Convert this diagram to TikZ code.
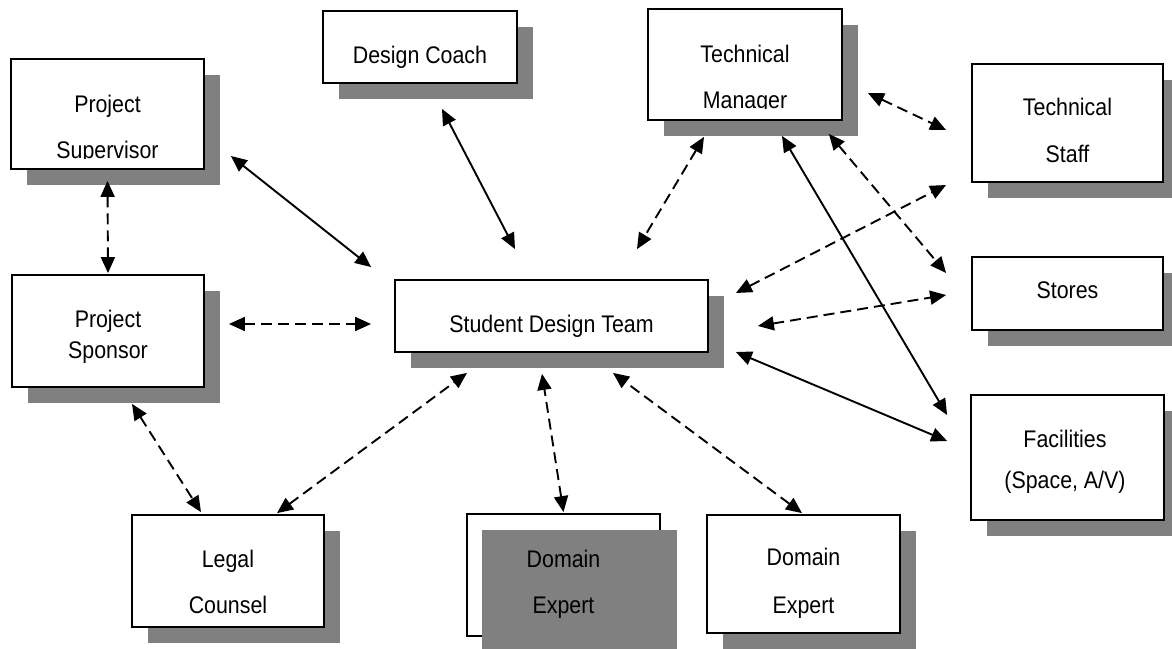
\documentclass[tikz,border=0pt]{standalone}
\usepackage{fontspec}
\setmainfont{Liberation Sans}[FakeStretch=0.89]
\usetikzlibrary{arrows.meta,shadows,calc}
\definecolor{boxgray}{gray}{0.5}
\tikzset{
  box/.style={draw=black, line width=1.8pt, fill=white, inner sep=0pt,
    drop shadow={shadow xshift=16pt, shadow yshift=-16pt, fill=boxgray, opacity=1}},
  plainbox/.style={draw=black, line width=1.8pt, fill=white, inner sep=0pt},
  txt/.style={anchor=base, inner sep=0pt, font=\fontsize{24}{26}\selectfont},
  link/.style={line width=1.9pt, {Triangle[length=16pt,width=14pt]}-{Triangle[length=16pt,width=14pt]}},
  dlink/.style={link, dash pattern=on 11pt off 6pt}
}
\begin{document}
\begin{tikzpicture}[x=1pt,y=-1pt]
\useasboundingbox (0,0) rectangle (1172,648);
\clip (0,0) rectangle (1172,648);

% boxes
\node[box, minimum width=194pt, minimum height=72pt]  (coach) at (420,47) {};
\node[box, minimum width=194pt, minimum height=111pt] (tm)    at (745,64.5) {};
\node[box, minimum width=193pt, minimum height=110pt] (sup)   at (107.5,114) {};
\node[box, minimum width=192pt, minimum height=112pt] (spo)   at (108,331) {};
\node[box, minimum width=313pt, minimum height=72pt]  (sdt)   at (551.5,316) {};
\node[box, minimum width=191pt, minimum height=118pt] (ts)    at (1067.5,123) {};
\node[box, minimum width=191pt, minimum height=73pt]  (st)    at (1067.5,293.5) {};
\node[box, minimum width=193pt, minimum height=125pt] (fac)   at (1067.5,457.5) {};
\node[box, minimum width=192pt, minimum height=112pt] (lc)    at (228,571) {};
\node[box, minimum width=193pt, minimum height=118pt] (de2)   at (803.5,574) {};
% this domain expert box has its grey block lying on top of it
\node[plainbox, minimum width=193pt, minimum height=122pt] (de1) at (563.5,575) {};
\fill[boxgray] ([shift={(16,17)}]de1.north west) rectangle ([shift={(16,16)}]de1.south east);

% labels
\node[txt] at (420,63) {Design Coach};
\node[txt] at (745,62) {Technical};
\begin{scope}
  \clip (650,70) rectangle (840,108);
  \node[txt] at (745,108) {Manager};
\end{scope}
\node[txt] at (107.5,112) {Project};
\begin{scope}
  \clip (13,118) rectangle (202,158);
  \node[txt] at (107.5,158) {Supervisor};
\end{scope}
\node[txt] at (108,327) {Project};
\node[txt] at (108,358) {Sponsor};
\node[txt] at (551.5,332) {Student Design Team};
\node[txt] at (1067.5,115) {Technical};
\node[txt] at (1067.5,162) {Staff};
\node[txt] at (1067.5,298) {Stores};
\node[txt] at (1065,447) {Facilities};
\node[txt] at (1065,488) {(Space, A/V)};
\node[txt] at (228,567) {Legal};
\node[txt] at (228,613) {Counsel};
\node[txt] at (563.5,567) {Domain};
\node[txt] at (563.5,613) {Expert};
\node[txt] at (803.5,565) {Domain};
\node[txt] at (803.5,613) {Expert};

% connectors
\draw[link]  ([shift={(22,25)}]coach.south) -- ([shift={(-36.5,-30)}]sdt.north);
\draw[link]  ([shift={(26,42)}]sup.east) -- ([shift={(-23,-12)}]sdt.north west);
\draw[dlink] ([shift={(0,11)}]sup.south) -- ([shift={(0,-1)}]spo.north);
\draw[dlink] ([shift={(24,-7)}]spo.east) -- ([shift={(-23,8)}]sdt.west);
\draw[dlink] ([shift={(24,16)}]spo.south) -- ([shift={(-27,-2)}]lc.north);
\draw[dlink] ([shift={(49,-1)}]lc.north) -- ([shift={(-84.5,20)}]sdt.south);
\draw[dlink] ([shift={(0,-1)}]de1.north) -- ([shift={(-9.5,21)}]sdt.south);
\draw[dlink] ([shift={(-1.5,-1)}]de2.north) -- ([shift={(61.5,20)}]sdt.south);
\draw[dlink] ([shift={(-41,16)}]tm.south) -- ([shift={(85.5,-30)}]sdt.north);
\draw[dlink] ([shift={(25,28.5)}]tm.east) -- ([shift={(-25,7)}]ts.west);
\draw[dlink] ([shift={(-14,13)}]tm.south east) -- ([shift={(-25,-20.5)}]st.west);
\draw[link]  ([shift={(37,15)}]tm.south) -- ([shift={(-23,-42.5)}]fac.west);
\draw[dlink] ([shift={(27,-23)}]sdt.east) -- ([shift={(-25,62)}]ts.west);
\draw[dlink] ([shift={(49,10)}]sdt.east) -- ([shift={(-25,1.5)}]st.west);
\draw[link]  ([shift={(27,36)}]sdt.east) -- ([shift={(-23,-16.5)}]fac.west);
\end{tikzpicture}
\end{document}
